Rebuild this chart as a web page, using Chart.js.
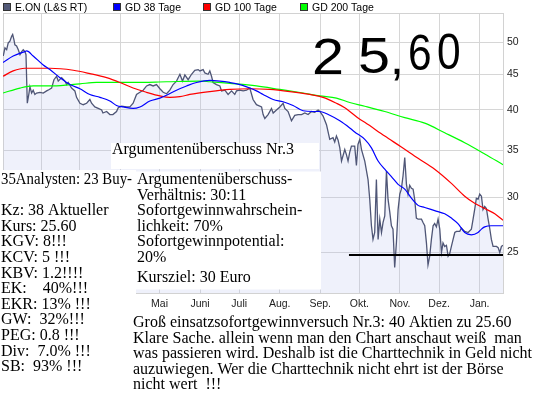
<!DOCTYPE html>
<html>
<head>
<meta charset="utf-8">
<script src="https://cdn.jsdelivr.net/npm/chart.js@4"></script>
<style>
html, body { margin: 0; padding: 0; background: #fff; }
</style>
</head>
<body>
<canvas id="myChart" width="545" height="395"></canvas>
<script>
// days since 1 Jan 2008
const monthDays = [31, 60, 91, 121, 152, 182, 213, 244, 274, 305, 335, 366];
const monthLabels = ['Feb.', 'März', 'Apr.', 'Mai', 'Juni', 'Juli', 'Aug.', 'Sep.', 'Okt.', 'Nov.', 'Dez.', 'Jan.'];
const yTicks = [25, 30, 35, 40, 45, 50];

const priceDays = [
  1.4, 2.7, 4.0, 5.2, 6.5, 7.8, 8.6, 9.6, 10.3, 11.6,
  12.9, 14.2, 15.5, 16.7, 18.0, 18.8, 19.8, 21.1, 21.8, 23.1,
  24.3, 25.6, 26.9, 29.5, 32.0, 34.6, 36.6, 38.4, 40.2, 42.2,
  43.5, 46.1, 48.6, 49.9, 51.1, 53.7, 56.2, 57.5, 60.1, 62.6,
  65.2, 67.7, 69.0, 71.5, 74.1, 76.7, 77.7, 80.5, 83.0, 85.3,
  88.1, 89.4, 92.0, 95.8, 98.3, 100.8, 103.4, 106.0, 108.5, 111.1,
  113.6, 116.1, 118.7, 121.3, 123.8, 126.4, 128.9, 131.4, 134.0, 136.6,
  138.6, 140.4, 142.9, 145.5, 148.0, 150.6, 151.9, 154.4, 155.7, 158.2,
  159.5, 160.8, 162.0, 164.6, 167.2, 168.5, 171.0, 173.5, 176.1, 178.6,
  179.9, 182.5, 185.0, 187.6, 190.1, 192.6, 195.2, 199.1, 200.3, 201.6,
  204.1, 206.7, 208.0, 210.5, 213.1, 215.6, 216.9, 219.4, 222.0, 224.5,
  227.1, 229.7, 232.2, 234.7, 237.3, 239.8, 242.4, 243.7, 246.2, 248.8,
  251.3, 253.8, 255.1, 256.4, 257.7, 259.0, 260.3, 262.8, 264.1, 265.3,
  266.6, 267.9, 270.4, 271.7, 272.9, 274.3, 275.6, 278.1, 280.6, 281.9,
  283.2, 284.4, 285.7, 287.0, 288.3, 289.6, 290.9, 292.1, 293.4, 294.7,
  295.9, 297.2, 298.5, 299.7, 301.0, 302.3, 303.6, 304.9, 306.1, 307.4,
  308.7, 310.0, 311.2, 312.5, 313.8, 315.1, 316.3, 317.6, 318.9, 321.5,
  322.7, 324.0, 325.3, 326.5, 327.8, 329.1, 330.4, 331.6, 332.9, 334.2,
  335.5, 336.8, 338.0, 339.3, 340.6, 341.9, 343.1, 344.4, 345.7, 347.0,
  348.3, 350.8, 352.1, 354.6, 357.2, 359.7, 361.0, 362.2, 363.5, 364.8,
  366.1, 367.4, 368.6, 369.9, 371.2, 372.5, 373.7, 375.0, 376.3, 378.9,
  380.2, 381.4, 382.7, 383.9
];
const price = [
  47.8, 49.1, 48.8, 49.9, 50.2, 51.0, 51.3, 50.4, 49.6, 49.4,
  48.8, 48.0, 48.5, 48.8, 48.5, 48.0, 40.9, 42.3, 43.2, 42.3,
  42.7, 42.1, 42.3, 42.4, 42.3, 42.6, 42.8, 43.0, 44.2, 44.7,
  44.0, 44.5, 44.0, 43.5, 43.8, 43.0, 42.6, 41.7, 40.9, 40.7,
  40.9, 41.4, 40.9, 40.4, 40.2, 40.0, 39.6, 39.8, 39.4, 39.4,
  39.8, 40.3, 40.5, 40.4, 40.4, 40.9, 42.1, 42.4, 42.7, 43.3,
  43.5, 43.3, 43.5, 42.9, 42.4, 42.2, 42.7, 43.5, 44.0, 45.0,
  44.0, 44.9, 44.2, 45.0, 45.6, 45.7, 45.5, 45.7, 45.2, 45.0,
  45.5, 44.7, 43.8, 43.5, 43.3, 42.6, 42.7, 42.1, 42.6, 42.1,
  42.6, 42.7, 42.6, 42.7, 43.0, 41.4, 40.7, 40.4, 39.4, 38.9,
  39.4, 40.2, 39.6, 40.0, 40.4, 40.9, 40.2, 39.8, 38.6, 39.3,
  39.4, 39.4, 39.6, 39.4, 39.8, 39.7, 40.0, 39.8, 39.2, 38.1,
  36.3, 36.5, 36.0, 36.7, 36.2, 35.3, 33.8, 35.1, 34.5, 33.8,
  34.8, 35.5, 35.5, 33.3, 35.7, 36.3, 35.1, 33.8, 31.8, 29.8,
  27.3, 26.1, 26.7, 31.8, 26.1, 27.9, 26.7, 27.6, 28.2, 32.7,
  29.8, 28.6, 27.3, 27.0, 23.8, 25.8, 28.8, 30.3, 30.8, 32.2,
  34.2, 31.3, 30.3, 31.2, 30.9, 30.8, 29.8, 28.0, 27.9, 27.9,
  27.6, 27.3, 25.8, 24.0, 24.7, 26.1, 27.3, 27.5, 27.2, 27.9,
  27.0, 25.0, 25.8, 25.5, 25.6, 24.7, 24.9, 25.5, 26.1, 26.7,
  26.8, 26.8, 27.1, 26.8, 26.7, 27.0, 27.9, 28.8, 29.9, 29.8,
  30.3, 30.1, 28.8, 29.1, 28.9, 27.9, 27.1, 26.1, 25.5, 25.5,
  25.4, 25.0, 25.5, 25.6
];

const gd38Days = [1.2, 9.0, 18.0, 19.3, 24.3, 32.0, 37.1, 44.8, 52.4, 60.1,
  67.7, 75.4, 83.0, 88.1, 93.2, 100.8, 106.0, 113.6, 121.3, 126.4,
  134.0, 141.7, 149.3, 159.5, 167.2, 174.8, 182.5, 190.1, 195.2, 200.3,
  208.0, 215.6, 223.2, 230.9, 238.5, 243.7, 251.3, 259.0, 266.6, 270.4,
  278.1, 283.2, 288.3, 293.4, 298.5, 303.6, 308.7, 313.8, 318.9, 324.0,
  331.6, 339.3, 344.4, 349.4, 354.6, 359.7, 364.8, 367.4, 369.9, 375.0, 383.9];
const gd38 = [46.8, 47.8, 48.5, 48.6, 47.8, 46.4, 45.7, 44.5, 43.5, 42.9,
  42.1, 41.7, 41.2, 40.6, 40.4, 40.2, 40.4, 41.2, 41.6, 42.0,
  42.7, 43.3, 43.8, 44.1, 44.0, 43.8, 43.5, 43.0, 42.6, 42.1,
  41.4, 41.1, 40.6, 39.9, 39.8, 39.8, 39.3, 38.6, 37.7, 37.2,
  36.3, 35.3, 33.8, 32.9, 32.1, 31.3, 30.8, 29.9, 29.2, 29.0,
  28.7, 28.4, 28.0, 27.5, 26.7, 26.5, 26.7, 27.0, 27.2, 27.3, 27.3];

const gd100Days = [1.2, 9.0, 18.0, 37.1, 55.0, 67.7, 80.5, 90.7, 100.8, 111.1,
  121.3, 128.9, 136.6, 144.2, 159.5, 174.8, 190.1, 205.4, 220.7, 236.0,
  246.2, 256.4, 262.8, 274.3, 278.1, 293.4, 306.1, 318.9, 331.6, 344.4,
  354.6, 362.2, 369.9, 377.6, 383.9];
const gd100 = [44.7, 45.5, 45.9, 45.9, 45.6, 45.1, 44.5, 43.8, 43.0, 42.4,
  41.9, 41.7, 41.8, 42.1, 42.5, 42.8, 42.9, 42.8, 42.5, 42.1,
  41.7, 40.9, 40.3, 38.8, 38.4, 36.7, 35.4, 34.1, 32.9, 31.4,
  30.1, 29.4, 28.9, 28.4, 27.8];

const gd200Days = [1.2, 14.2, 24.3, 39.6, 60.1, 72.8, 100.8, 126.4, 151.9, 159.5,
  179.9, 195.2, 213.1, 230.9, 243.7, 256.4, 266.6, 278.1, 293.4, 308.7,
  324.0, 339.3, 354.6, 369.9, 383.9];
const gd200 = [42.3, 43.0, 43.3, 43.3, 43.6, 43.8, 43.8, 43.9, 44.0, 43.9,
  43.6, 43.3, 42.8, 42.3, 41.9, 41.6, 41.0, 40.5, 39.8, 39.0,
  38.3, 37.1, 35.9, 34.6, 33.4];

// hand drawn support line
const supportLevel = 24.8;
const supportFrom = 266;
const supportTo = 383.9;

const legendItems = ['E.ON (L&S RT)', 'GD 38 Tage', 'GD 100 Tage', 'GD 200 Tage'];
const legendColors = ['#535a78', '#0000ff', '#ff0000', '#00ff00'];

const leftText = ['35Analysten: 23 Buy-', '', 'Kz: 38 Aktueller', 'Kurs: 25.60', 'KGV: 8!!!',
  'KCV: 5 !!!', 'KBV: 1.2!!!!', 'EK:    40%!!!', 'EKR: 13% !!!', 'GW:  32%!!!',
  'PEG: 0.8 !!!', 'Div:  7.0% !!!', 'SB:  93% !!!'];
const boxTitle = 'Argumentenüberschuss Nr.3';
const boxText = ['Argumentenüberschuss-', 'Verhältnis: 30:11', 'Sofortgewinnwahrschein-',
  'lichkeit: 70%', 'Sofortgewinnpotential:', '20%'];
const targetText = 'Kursziel: 30 Euro';
const bottomText = ['Groß einsatzsofortgewinnversuch Nr.3: 40 Aktien zu 25.60',
  'Klare Sache. allein wenn man den Chart anschaut weiß  man',
  'was passieren wird. Deshalb ist die Charttechnik in Geld nicht',
  'auzuwiegen. Wer die Charttechnik nicht ehrt ist der Börse',
  'nicht wert  !!!'];
const bigNote = '25,60';

const pts = (xs, ys) => xs.map((x, i) => ({ x: x, y: ys[i] }));

Chart.defaults.font.family = "'Liberation Sans', Arial, sans-serif";
Chart.defaults.font.size = 10.5;
Chart.defaults.color = '#222';

const serif = "'Liberation Serif', 'DejaVu Serif', serif";

const overlay = {
  id: 'overlay',
  beforeDatasetsDraw(chart) {
    const a = chart.chartArea, c = chart.ctx;
    c.save();
    c.strokeStyle = '#d2d2d2';
    c.lineWidth = 1;
    c.strokeRect(a.left + 0.5, a.top + 0.5, a.right - a.left, a.bottom - a.top);
    c.restore();
  },
  afterDraw(chart) {
    const c = chart.ctx;
    c.save();

    // pasted white boxes
    c.fillStyle = '#fff';
    c.fillRect(111, 143, 208, 26);
    c.fillRect(136, 171.5, 185, 118);
    c.fillRect(0, 170, 136, 225);

    c.fillStyle = '#000';
    c.textBaseline = 'alphabetic';
    c.font = '16px ' + serif;
    c.fillText(boxTitle, 112, 154);
    leftText.forEach((t, i) => c.fillText(t, 1, 184 + i * 15.6, 131));
    boxText.forEach((t, i) => c.fillText(t, 137, 184 + i * 15.6));
    c.fillText(targetText, 137, 281.5);
    bottomText.forEach((t, i) => c.fillText(t, 133, 327 + i * 15.6));

    // handwritten price
    c.font = "50px 'Liberation Sans', Arial, sans-serif";
    const xs = [312, 358, 390, 408, 437];
    const sx = [1.15, 1.15, 1, 0.85, 0.85];
    const by = [74, 73, 74, 70, 69];
    bigNote.split('').forEach((ch, i) => {
      c.save();
      c.translate(xs[i], by[i]);
      c.scale(sx[i], 1);
      c.fillText(ch, 0, 0);
      c.restore();
    });

    // legend
    c.font = "10.5px 'Liberation Sans', Arial, sans-serif";
    const lx = [3, 113, 203, 300];
    legendItems.forEach((t, i) => {
      c.fillStyle = legendColors[i];
      c.fillRect(lx[i] + 0.5, 3.5, 7, 7);
      c.strokeStyle = '#333';
      c.lineWidth = 1;
      c.strokeRect(lx[i] + 0.5, 3.5, 7, 7);
      c.fillStyle = '#000';
      c.fillText(t, lx[i] + 12, 10.5);
    });
    c.restore();
  }
};

const myChart = new Chart(document.getElementById('myChart'), {
  type: 'line',
  data: {
    datasets: [
      {
        label: 'Unterstützung',
        data: pts([supportFrom, supportTo], [supportLevel, supportLevel]),
        borderColor: '#000',
        borderWidth: 2,
        pointRadius: 0,
        order: 0
      },
      {
        label: legendItems[1],
        data: pts(gd38Days, gd38),
        borderColor: '#0000ff',
        borderWidth: 1.2,
        pointRadius: 0,
        cubicInterpolationMode: 'monotone',
        order: 1
      },
      {
        label: legendItems[2],
        data: pts(gd100Days, gd100),
        borderColor: '#ff0000',
        borderWidth: 1.2,
        pointRadius: 0,
        cubicInterpolationMode: 'monotone',
        order: 2
      },
      {
        label: legendItems[3],
        data: pts(gd200Days, gd200),
        borderColor: '#00ff00',
        borderWidth: 1.2,
        pointRadius: 0,
        cubicInterpolationMode: 'monotone',
        order: 3
      },
      {
        label: legendItems[0],
        data: pts(priceDays, price),
        borderColor: '#4f5676',
        backgroundColor: 'rgba(180, 190, 235, 0.22)',
        borderWidth: 1.3,
        pointRadius: 0,
        fill: 'start',
        tension: 0,
        order: 4
      }
    ]
  },
  options: {
    responsive: false,
    animation: false,
    events: [],
    layout: { padding: { left: 3, top: 13, right: 0, bottom: 0 } },
    plugins: {
      legend: { display: false },
      tooltip: { enabled: false }
    },
    scales: {
      x: {
        type: 'linear',
        min: 1.2,
        max: 383.9,
        afterFit: (scale) => { scale.height = 102; },
        afterBuildTicks: (scale) => { scale.ticks = monthDays.map(v => ({ value: v })); },
        grid: { color: '#d6d6d6', drawTicks: false },
        border: { color: '#d2d2d2' },
        ticks: {
          autoSkip: false,
          maxRotation: 0,
          padding: 5,
          callback: (v) => monthLabels[monthDays.indexOf(v)]
        }
      },
      y: {
        type: 'logarithmic',
        position: 'right',
        min: 21.87,
        max: 55.08,
        afterFit: (scale) => { scale.width = 42; },
        afterBuildTicks: (scale) => { scale.ticks = yTicks.map(v => ({ value: v })); },
        grid: { color: '#d6d6d6', drawTicks: false },
        border: { color: '#d2d2d2' },
        ticks: {
          padding: 4,
          callback: (v) => String(v)
        }
      }
    }
  },
  plugins: [overlay]
});
</script>
</body>
</html>
